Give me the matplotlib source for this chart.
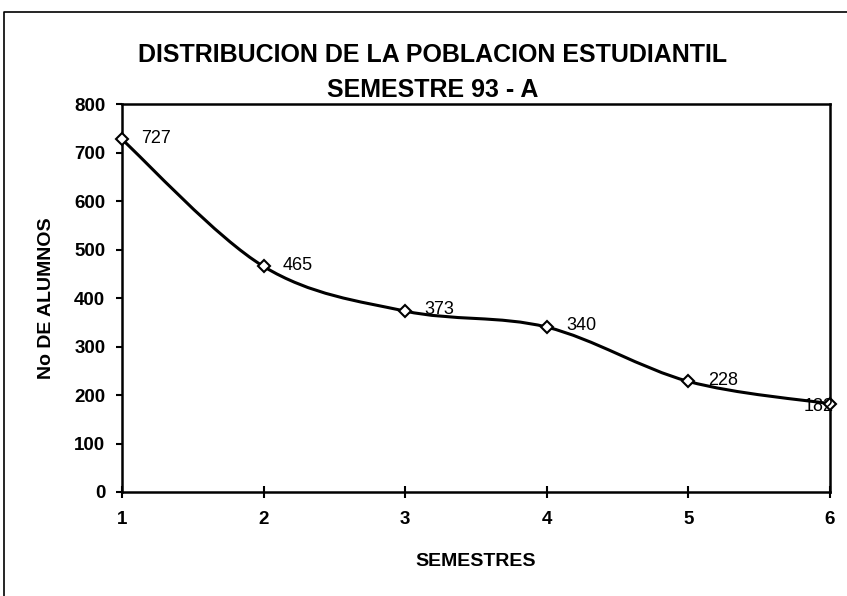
import numpy as np
import matplotlib.pyplot as plt
from matplotlib.path import Path
from matplotlib.patches import PathPatch
from matplotlib.lines import Line2D

# datos
semestres = [1, 2, 3, 4, 5, 6]
alumnos = [727, 465, 373, 340, 228, 182]
etiquetas = [str(v) for v in alumnos]

plt.rcParams['font.family'] = ['Liberation Sans', 'DejaVu Sans']

W, H = 847, 596
fig = plt.figure(figsize=(W / 100, H / 100), dpi=100)
ax = fig.add_axes([122 / W, 1 - 492 / H, (830 - 122) / W, (492 - 104) / H])

# linea suavizada (estilo Excel: Bezier con puntos de control Catmull-Rom)
x = np.array(semestres, dtype=float)
y = np.array(alumnos, dtype=float)
n = len(x)
verts = [(x[0], y[0])]
codes = [Path.MOVETO]
for i in range(n - 1):
    p0 = i - 1 if i > 0 else i
    p3 = i + 2 if i + 2 < n else i + 1
    c1 = (x[i] + (x[i + 1] - x[p0]) / 6, y[i] + (y[i + 1] - y[p0]) / 6)
    c2 = (x[i + 1] - (x[p3] - x[i]) / 6, y[i + 1] - (y[p3] - y[i]) / 6)
    verts += [c1, c2, (x[i + 1], y[i + 1])]
    codes += [Path.CURVE4] * 3
ax.add_patch(PathPatch(Path(verts, codes), facecolor='none', edgecolor='black', lw=2.2, zorder=2))

ax.plot(semestres, alumnos, linestyle='none', marker='D', markersize=6,
        markerfacecolor='white', markeredgecolor='black', markeredgewidth=1.5,
        zorder=3, clip_on=False)

for i, (xv, yv, t) in enumerate(zip(semestres, alumnos, etiquetas)):
    if i == len(semestres) - 1:
        ax.annotate(t, (xv, yv), xytext=(-8, -2), textcoords='offset points',
                    ha='center', va='center', fontsize=13, zorder=4)
    else:
        ax.annotate(t, (xv, yv), xytext=(14, 1), textcoords='offset points',
                    ha='left', va='center', fontsize=13, zorder=4)

ax.set_xlim(1, 6)
ax.set_ylim(0, 800)
ax.set_xticks(semestres)
ax.set_yticks(range(0, 801, 100))
for s in ax.spines.values():
    s.set_linewidth(1.8)
ax.tick_params(axis='y', direction='out', length=4, width=1.5, labelsize=13.5, pad=8)
ax.tick_params(axis='x', direction='inout', length=8, width=1.5, labelsize=13.5, pad=10)
for lab in ax.get_xticklabels() + ax.get_yticklabels():
    lab.set_fontweight('bold')

ax.set_xlabel('SEMESTRES', fontsize=14, fontweight='bold', labelpad=18)
ax.set_ylabel('No DE ALUMNOS', fontsize=14, fontweight='bold', labelpad=14)

fig.text(433 / W, 1 - 55 / H, 'DISTRIBUCION DE LA POBLACION ESTUDIANTIL',
         ha='center', va='center', fontsize=18, fontweight='bold')
fig.text(433 / W, 1 - 90 / H, 'SEMESTRE 93 - A',
         ha='center', va='center', fontsize=18, fontweight='bold')

# marco exterior (lado izquierdo y superior visibles en el escaneo)
fig.add_artist(Line2D([4 / W, 4 / W, 1.0], [0.0, 1 - 12 / H, 1 - 12 / H],
                      transform=fig.transFigure, color='black', linewidth=1.2))

fig.savefig('out.png', dpi=100)
